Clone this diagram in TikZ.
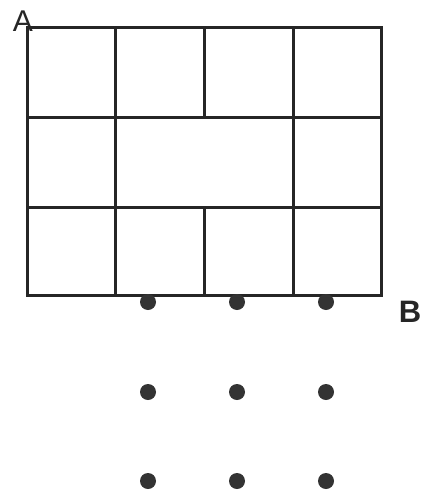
\documentclass[tikz,border=0pt]{standalone}
\usepackage{fontspec}
\setmainfont{Liberation Sans}
\begin{document}
\begin{tikzpicture}[x=1pt, y=-1pt]
    % Define styles
    \tikzstyle{wall} = [line width=3pt, black!85]
    \tikzstyle{dot} = [circle, fill=black!80, inner sep=0pt, minimum size=16pt]
    \tikzstyle{letter} = [font=\fontsize{30}{30}\selectfont, text=black!85, inner sep=0pt]
    \useasboundingbox (0,0) rectangle (423,490);

    % Draw grid
    \draw [wall] (27,27) rectangle (381,295);
    \draw [wall] (27,117) -- (381,117);
    \draw [wall] (27,207) -- (381,207);
    \draw [wall] (115,27) -- (115,295);
    \draw [wall] (293,27) -- (293,295);
    \draw [wall] (204,27) -- (204,117);
    \draw [wall] (204,207) -- (204,295);

    % Place dots
    \foreach \r/\y in {1/302, 2/392, 3/481} {
        \node [dot] (d\r1) at (148,\y) {};
        \node [dot] (d\r2) at (237,\y) {};
        \node [dot] (d\r3) at (326,\y) {};
    }

    % Place labels
    \node [letter] (a) at (23,21) {A};
    \node [letter, font=\fontsize{31}{31}\selectfont\bfseries] (b) at (410,312) {B};
\end{tikzpicture}
\end{document}
